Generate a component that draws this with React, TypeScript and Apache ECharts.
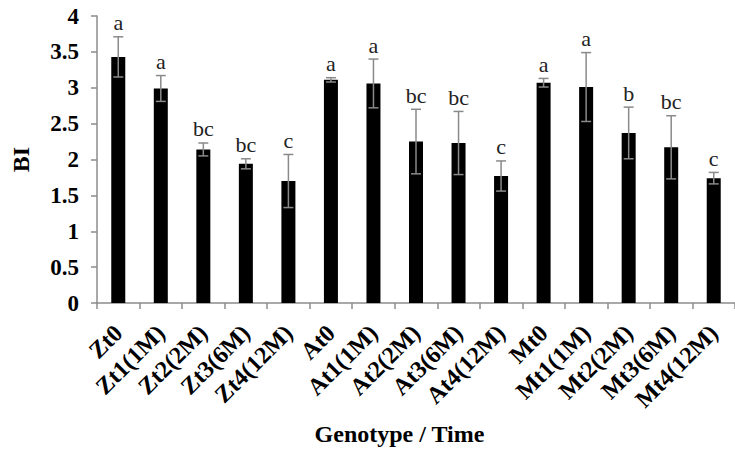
import React, { useEffect, useRef } from "react";
import * as echarts from "echarts";

const categories = [
  "Zt0", "Zt1(1M)", "Zt2(2M)", "Zt3(6M)", "Zt4(12M)",
  "At0", "At1(1M)", "At2(2M)", "At3(6M)", "At4(12M)",
  "Mt0", "Mt1(1M)", "Mt2(2M)", "Mt3(6M)", "Mt4(12M)",
];
const biValues = [3.43, 2.99, 2.14, 1.94, 1.70, 3.11, 3.06, 2.25, 2.23, 1.77, 3.07, 3.01, 2.37, 2.17, 1.74];
const biErrors = [0.28, 0.18, 0.09, 0.07, 0.37, 0.03, 0.34, 0.45, 0.44, 0.21, 0.06, 0.48, 0.36, 0.44, 0.08];
const groupLetters = ["a", "a", "bc", "bc", "c", "a", "a", "bc", "bc", "c", "a", "a", "b", "bc", "c"];

const SERIF = "Liberation Serif";

export default function App() {
  const ref = useRef<HTMLDivElement>(null);

  useEffect(() => {
    if (!ref.current) return;
    const chart = echarts.init(ref.current, undefined, { renderer: "svg" });
    const errData = biValues.map((v, i) => [i, v, biErrors[i]]);

    chart.setOption({
      animation: false,
      backgroundColor: "#ffffff",
      grid: { left: 97, top: 16, right: -4, bottom: 149 },
      xAxis: {
        type: "category",
        data: categories,
        boundaryGap: true,
        axisLine: { show: true, lineStyle: { color: "#8c8c8c", width: 1.5 } },
        axisTick: { show: true, alignWithLabel: false, length: 6, lineStyle: { color: "#8c8c8c", width: 1.5 } },
        axisLabel: {
          interval: 0,
          rotate: 45,
          margin: 26,
          color: "#000",
          fontFamily: SERIF,
          fontWeight: "bold",
          fontSize: 24,
        },
        name: "Genotype / Time",
        nameLocation: "middle",
        nameGap: 119,
        nameTextStyle: {
          color: "#000",
          fontFamily: SERIF,
          fontWeight: "bold",
          fontSize: 24,
          padding: [0, 33, 0, 0],
        },
        splitLine: { show: false },
      },
      yAxis: {
        type: "value",
        min: 0,
        max: 4,
        interval: 0.5,
        axisLine: { show: true, lineStyle: { color: "#8c8c8c", width: 1.5 } },
        axisTick: { show: true, length: 6, lineStyle: { color: "#8c8c8c", width: 1.5 } },
        axisLabel: {
          margin: 18,
          color: "#000",
          fontFamily: SERIF,
          fontWeight: "bold",
          fontSize: 23,
        },
        splitLine: { show: false },
        name: "BI",
        nameLocation: "middle",
        nameRotate: 90,
        nameGap: 64,
        nameTextStyle: {
          color: "#000",
          fontFamily: SERIF,
          fontWeight: "bold",
          fontSize: 24,
        },
      },
      series: [
        {
          type: "bar",
          data: biValues,
          barWidth: 14,
          itemStyle: { color: "#000" },
          z: 2,
        },
        {
          type: "custom",
          z: 5,
          data: errData,
          renderItem: (params: any, api: any) => {
            const i = api.value(0);
            const v = api.value(1);
            const e = api.value(2);
            const top = api.coord([i, v + e]);
            const bot = api.coord([i, v - e]);
            const x = top[0];
            const half = 5;
            const style = { stroke: "#8a8a8a", lineWidth: 1.5 };
            return {
              type: "group",
              children: [
                { type: "line", shape: { x1: x, y1: top[1], x2: x, y2: bot[1] }, style },
                { type: "line", shape: { x1: x - half, y1: top[1], x2: x + half, y2: top[1] }, style },
                { type: "line", shape: { x1: x - half, y1: bot[1], x2: x + half, y2: bot[1] }, style },
                {
                  type: "text",
                  x: x,
                  y: top[1] - 3,
                  style: {
                    text: groupLetters[params.dataIndex],
                    align: "center",
                    verticalAlign: "bottom",
                    fill: "#222",
                    fontFamily: SERIF,
                    fontSize: 22,
                  },
                },
              ],
            };
          },
        },
      ],
    });

    return () => chart.dispose();
  }, []);

  return (
    <div
      ref={ref}
      style={{ position: "absolute", left: 0, top: 0, width: 735, height: 452 }}
    />
  );
}
